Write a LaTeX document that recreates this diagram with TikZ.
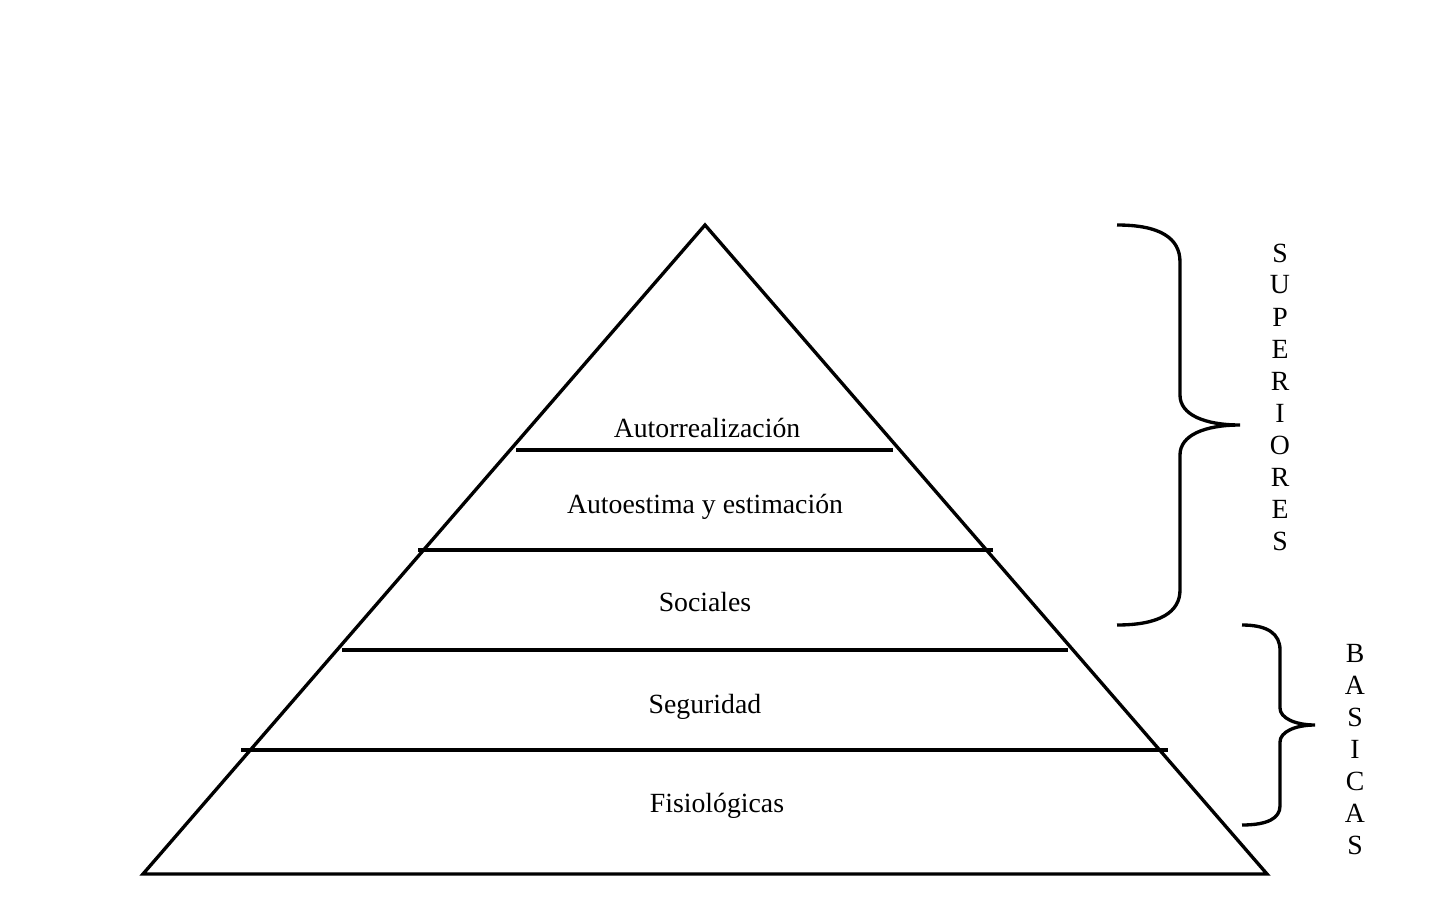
\documentclass[tikz,border=0pt]{standalone}
\usepackage{fontspec}
\setmainfont{Liberation Serif}
\usepackage{tikz}
\usetikzlibrary{positioning,calc}

\tikzset{
  level/.style={font=\fontsize{15.8}{19}\selectfont, anchor=base},
  letra/.style={font=\fontsize{15.8}{19}\selectfont, anchor=center, inner sep=0pt},
  trazo/.style={line width=1.9pt, line join=miter}
}

\begin{document}
\begin{tikzpicture}[x=0.02cm, y=-0.02cm]
  \useasboundingbox (0,0) rectangle (1444,909);

  % Pyramid outline
  \coordinate (apex) at (705,225);
  \coordinate (baseL) at (143,874);
  \coordinate (baseR) at (1267,874);
  \draw[trazo] (baseL) -- (apex) -- (baseR) -- cycle;

  % Level separators
  \foreach \y/\a/\b in {450/516/893, 550/418/993, 650/342/1068, 750/241/1168} {
    \draw[trazo] (\a,\y) -- (\b,\y);
  }

  % Level labels
  \node[level] (autorr) at (707,437) {Autorrealización};
  \node[level] (autoest) at (705,513) {Autoestima y estimación};
  \node[level] (soc) at (705,611) {Sociales};
  \node[level] (seg) at (705,713) {Seguridad};
  \node[level] (fis) at (717,812) {Fisiológicas};

  % Brace for upper needs
  \draw[trazo] (1117,225) .. controls (1160,225) and (1180,238) .. (1180,262)
    -- (1180,395) .. controls (1180,415) and (1205,425) .. (1240,425)
    .. controls (1205,425) and (1180,435) .. (1180,455)
    -- (1180,590) .. controls (1180,612) and (1160,625) .. (1117,625);

  % Brace for basic needs
  \draw[trazo] (1242,625) .. controls (1268,625) and (1280,634) .. (1280,650)
    -- (1280,708) .. controls (1280,718) and (1295,725) .. (1315,725)
    .. controls (1295,725) and (1280,732) .. (1280,742)
    -- (1280,806) .. controls (1280,818) and (1268,825) .. (1242,825);

  % Vertical words
  \foreach \l [count=\i from 0] in {S,U,P,E,R,I,O,R,E,S} {
    \node[letra] (sup\i) at (1280,{253+32*\i}) {\l};
  }
  \foreach \l [count=\i from 0] in {B,A,S,I,C,A,S} {
    \node[letra] (bas\i) at (1355,{653+32*\i}) {\l};
  }
\end{tikzpicture}
\end{document}
